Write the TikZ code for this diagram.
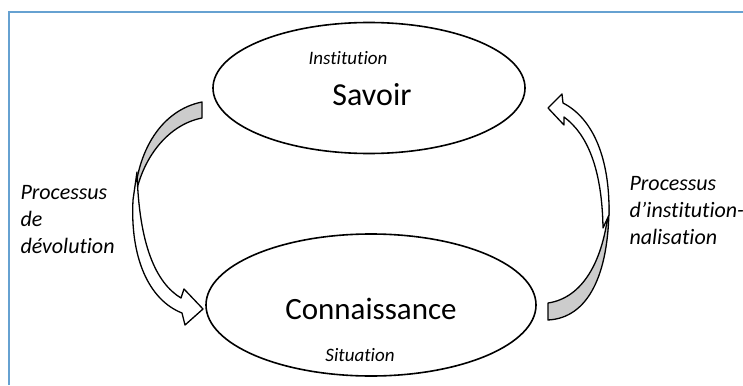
\documentclass[tikz,border=0pt]{standalone}
\usepackage{fontspec}
\setmainfont{Carlito}[Ligatures=NoCommon]
\usetikzlibrary{shapes.geometric}
\begin{document}
\begin{tikzpicture}%
	[x=1pt, y=-1pt,
	frame/.style={color=blue!45!cyan!70!black!60, line width=1.6pt},
	pole/.style={ellipse, draw=black, line width=1.6pt, inner sep=0pt},
	bigword/.style={font=\fontsize{32}{36}\selectfont},
	smallword/.style={font=\itshape\fontsize{19}{22}\selectfont},
	process/.style={font=\itshape\fontsize{22}{27}\selectfont, align=left, anchor=west},
	backband/.style={fill=black!20, draw=black, line width=1.3pt, line join=round},
	frontband/.style={fill=white, draw=black, line width=1.3pt, line join=round}]
%
\useasboundingbox (0,0) rectangle (743,385);
%%
%% Frame
%%
\draw[frame] (9,385) -- (9,12) -- (743,12);
%%
%% The two poles
%%
\node[pole, minimum width=312pt, minimum height=131pt] (top) at (369,88) {};
\node[pole, minimum width=330pt, minimum height=142pt] (bottom) at (371,305) {};
\node[smallword] (institution) at (348,58) {Institution};
\node[bigword] (savoir) at (372,95) {Savoir};
\node[bigword, font=\fontsize{31}{36}\selectfont] (connaissance) at (371,309) {Connaissance};
\node[smallword] (situation) at (360,355) {Situation};
%%
%% Left arrow (devolution)
%%
\fill[backband] (202,102) .. controls (162,110) and (136,150) .. (134,205)
	.. controls (139,162) and (166,125) .. (202,118) -- cycle;
\fill[frontband] (137,172) .. controls (139,245) and (156,283) .. (181,298)
	-- (184,289) -- (203,309) -- (185,325) -- (182,313)
	.. controls (149,300) and (130,258) .. (133,200) -- cycle;
%%
%% Right arrow (institutionnalisation)
%%
\fill[backband] (548,320) .. controls (588,318) and (609,275) .. (609,205)
	.. controls (604,262) and (582,298) .. (548,303) -- cycle;
\fill[frontband] (603,228) .. controls (602,168) and (587,134) .. (564,117)
	-- (564,125) -- (548,108) -- (562,94) -- (563,103)
	.. controls (594,119) and (610,160) .. (609,215) -- cycle;
%%
%% Labels of the processes
%%
\node[process] (devolution) at (17,220) {Processus\\de\\dévolution};
\node[process] (instit-label) at (626,211) {Processus\\d’institution-\\nalisation};
\end{tikzpicture}
\end{document}
